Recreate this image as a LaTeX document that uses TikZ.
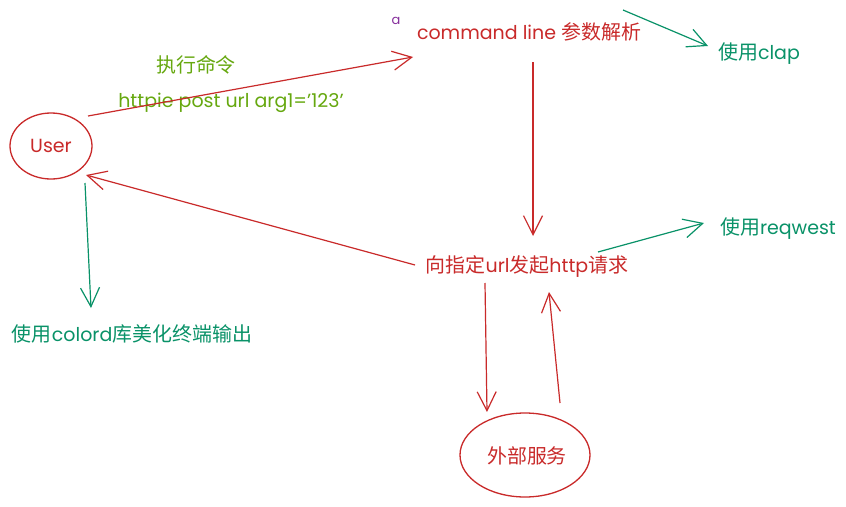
\documentclass[tikz,border=0pt]{standalone}
\usepackage{fontspec}
\setmainfont{Poppins}
\newfontfamily\cjk[Scale=1.05]{Noto Sans CJK SC}
\usetikzlibrary{arrows.meta}
\definecolor{exred}{HTML}{C92A2A}
\definecolor{exgreen}{HTML}{099268}
\definecolor{exolive}{HTML}{66A80F}
\definecolor{expurple}{HTML}{862E9C}
\tikzset{
  lbl/.style={inner sep=0pt, font=\fontsize{19}{22}\selectfont},
  redlbl/.style={lbl, text=exred},
  greenlbl/.style={lbl, text=exgreen},
  olivelbl/.style={lbl, text=exolive},
  redarr/.style={draw=exred, line width=1.2pt, -{Straight Barb[length=19pt,width=19pt,line width=1.2pt]}},
  greenarr/.style={draw=exgreen, line width=1.2pt, -{Straight Barb[length=19pt,width=19pt,line width=1.2pt]}},
}
\begin{document}
\begin{tikzpicture}[x=1pt,y=-1pt]
\useasboundingbox (0,0) rectangle (846,506);
\fill[white] (0,0) rectangle (846,506);
% ellipses
\draw[draw=exred, line width=1.3pt] (51,146) ellipse [x radius=41, y radius=33];
\node[redlbl] (user) at (51,146) {User};
\draw[draw=exred, line width=1.3pt] (525,455) ellipse [x radius=65, y radius=42];
\node[redlbl] (ext) at (527,456) {\cjk 外部服务};
% labels
\node[olivelbl] (exec) at (196,65) {\cjk 执行命令};
\node[olivelbl] (cmd) at (231,103) {httpie post url arg1={\char"0027}123{\char"0027}};
\node[lbl, text=expurple, font=\fontsize{13}{15}\selectfont] (a) at (396,21) {a};
\node[redlbl] (parse) at (529,32) {command line {\cjk 参数解析}};
\node[greenlbl] (clap) at (759,54) {{\cjk 使用}clap};
\node[redlbl] (req) at (527,267) {{\cjk 向指定}url{\cjk 发起}http{\cjk 请求}};
\node[greenlbl] (reqwest) at (778,229) {{\cjk 使用}reqwest};
\node[greenlbl] (colord) at (132,334) {{\cjk 使用}colord{\cjk 库美化终端输出}};
% connector endpoints
\coordinate (u1) at (88,116);
\coordinate (p1) at (413,57);
\coordinate (p2) at (623,10);
\coordinate (c1) at (708,46);
\coordinate (p3) at (533,62);
\coordinate (r1) at (533,236);
\coordinate (r2) at (598,252);
\coordinate (w1) at (704,223);
\coordinate (r3) at (415,265);
\coordinate (u2) at (86,175);
\coordinate (u3) at (85,183);
\coordinate (d1) at (91,308);
\coordinate (r4) at (485,283);
\coordinate (e1) at (487,412);
\coordinate (e2) at (560,403);
\coordinate (r5) at (549,292);
% connectors
\draw[redarr] (u1) -- (p1);
\draw[greenarr] (p2) -- (c1);
\draw[redarr] (p3) -- (r1);
\draw[greenarr] (r2) -- (w1);
\draw[redarr] (r3) -- (u2);
\draw[greenarr] (u3) -- (d1);
\draw[redarr] (r4) -- (e1);
\draw[redarr] (e2) -- (r5);
\end{tikzpicture}
\end{document}
